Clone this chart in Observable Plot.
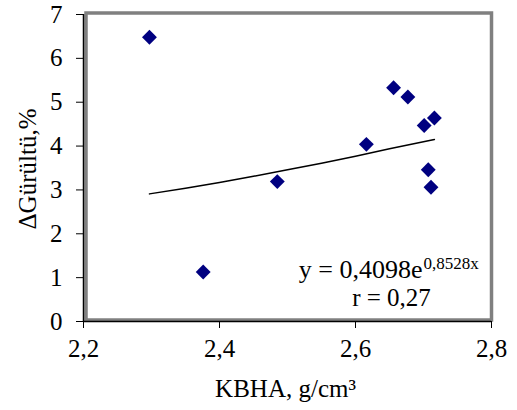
<!DOCTYPE html>
<html>
<head>
<meta charset="utf-8">
<script src="https://cdn.jsdelivr.net/npm/d3@7"></script>
<script src="https://cdn.jsdelivr.net/npm/@observablehq/plot@0.6"></script>
<style>
  html, body { margin: 0; padding: 0; background: #fff; font-family: 'Liberation Serif', serif; }
  #chart svg { display: block; }
</style>
</head>
<body>
<div id="chart"></div>
<script>
// Measured points: KBHA (g/cm3) vs ΔGürültü (%)
const kbha =     [2.297, 2.376, 2.485, 2.616, 2.656, 2.677, 2.701, 2.716, 2.707, 2.711];
const gurultu =  [6.48,  1.13,  3.19,  4.04,  5.33,  5.12,  4.47,  4.64,  3.46,  3.06];

// Trend line (exponential fit as drawn)
const trendX = [2.297, 2.35, 2.4, 2.45, 2.5, 2.55, 2.6, 2.65, 2.716];
const trendY = [2.91, 3.04, 3.17, 3.31, 3.46, 3.61, 3.77, 3.94, 4.15];

const xTicks = [2.2, 2.4, 2.6, 2.8];
const yTicks = [0, 1, 2, 3, 4, 5, 6, 7];

const xTitle = "KBHA, g/cm³";
const yTitle = "ΔGürültü,%";
const eqMain = "y = 0,4098e";
const eqSup = "0,8528x";
const rText = "r = 0,27";

const points = kbha.map((x, i) => ({x, y: gurultu[i]}));
const trend = trendX.map((x, i) => ({x, y: trendY[i]}));

const FONT = "'Liberation Serif', 'Times New Roman', serif";
const FS = 25;

function draw() {
  const chart = Plot.plot({
    width: 517,
    height: 410,
    marginLeft: 83,
    marginRight: 26,
    marginTop: 14,
    marginBottom: 89,
    style: {background: "#fff", color: "#000"},
    x: {domain: [2.2, 2.8]},
    y: {domain: [0, 7]},
    marks: [
      Plot.frame({stroke: "#808080", strokeWidth: 3.5, insetLeft: 2.5, insetBottom: 1.5, insetTop: -1.5, insetRight: 0}),
      Plot.ruleX([2.2], {stroke: "#000", strokeWidth: 1.5}),
      Plot.ruleY([0], {stroke: "#000", strokeWidth: 1.5}),
      Plot.axisX({
        ticks: xTicks,
        tickFormat: d => d.toFixed(1).replace(".", ","),
        tickSize: 7,
        tickPadding: 11,
        fontSize: FS,
        fontFamily: FONT,
        label: null
      }),
      Plot.axisY({
        ticks: yTicks,
        tickFormat: d => String(d),
        tickSize: 7,
        tickPadding: 14,
        fontSize: FS,
        fontFamily: FONT,
        label: null
      }),
      Plot.line(trend, {x: "x", y: "y", stroke: "#000", strokeWidth: 1.5}),
      Plot.dot(points, {x: "x", y: "y", symbol: "diamond2", r: 6.7, fill: "#000080", stroke: "none"}),
      Plot.text([xTitle], {frameAnchor: "bottom", textAnchor: "middle", lineAnchor: "bottom", dx: -2, dy: 75, fontSize: FS, fontFamily: FONT, fill: "#000"}),
      Plot.text([yTitle], {frameAnchor: "left", textAnchor: "middle", lineAnchor: "bottom", rotate: -90, dx: -48, dy: 1, fontSize: FS, fontFamily: FONT, fill: "#000"}),
      Plot.text([eqMain], {frameAnchor: "bottom-right", lineAnchor: "bottom", textAnchor: "end", dx: -69, dy: -43.5, fontSize: 26, fontFamily: FONT, fill: "#000"}),
      Plot.text([eqSup], {frameAnchor: "bottom-right", lineAnchor: "bottom", textAnchor: "start", dx: -68, dy: -53, fontSize: 17, fontFamily: FONT, fill: "#000"}),
      Plot.text([rText], {frameAnchor: "bottom-right", lineAnchor: "bottom", textAnchor: "middle", dx: -100, dy: -15.5, fontSize: FS, fontFamily: FONT, fill: "#000"})
    ]
  });
  const holder = document.getElementById("chart");
  holder.replaceChildren(chart);
  chart.querySelectorAll("text").forEach(t => t.getBoundingClientRect());
}

draw();
requestAnimationFrame(() => draw());
if (document.fonts && document.fonts.ready) document.fonts.ready.then(() => draw());
</script>
</body>
</html>
